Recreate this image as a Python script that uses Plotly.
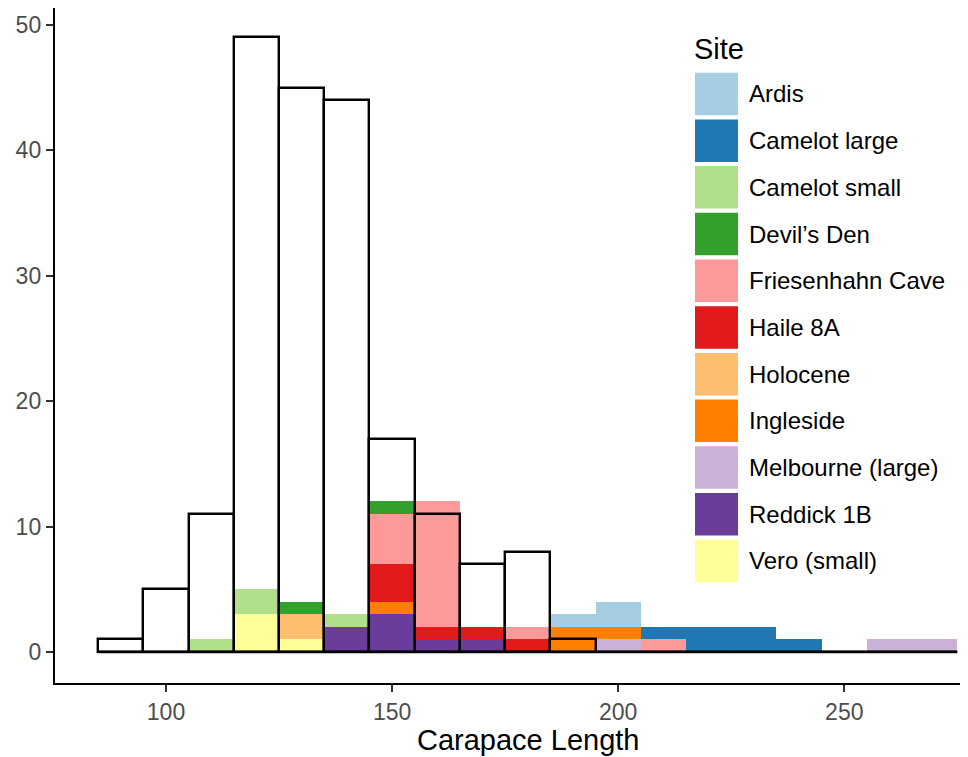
import numpy as np
import plotly.graph_objects as go

# ---------------- data ----------------
bin_width = 10
bin_centers = list(range(90, 271, 10))          # bins 85-95 ... 265-275

modern_counts = [1, 5, 11, 49, 45, 44, 17, 11, 7, 8, 1, 0, 0, 0, 0, 0, 0, 0, 0]

sites = ["Ardis", "Camelot large", "Camelot small", "Devil\u2019s Den",
         "Friesenhahn Cave", "Haile 8A", "Holocene", "Ingleside",
         "Melbourne (large)", "Reddick 1B", "Vero (small)"]
site_colors = ["#A6CEE3", "#1F78B4", "#B2DF8A", "#33A02C", "#FB9A99",
               "#E31A1C", "#FDBF6F", "#FF7F00", "#CAB2D6", "#6A3D9A", "#FFFF99"]

ardis     = [0, 0, 0, 0, 0, 0, 0, 0, 0, 0, 1, 2, 0, 0, 0, 0, 0, 0, 0]
camelot_l = [0, 0, 0, 0, 0, 0, 0, 0, 0, 0, 0, 0, 1, 2, 2, 1, 0, 0, 0]
camelot_s = [0, 0, 1, 2, 0, 1, 0, 0, 0, 0, 0, 0, 0, 0, 0, 0, 0, 0, 0]
devils    = [0, 0, 0, 0, 1, 0, 1, 0, 0, 0, 0, 0, 0, 0, 0, 0, 0, 0, 0]
friesen   = [0, 0, 0, 0, 0, 0, 4, 10, 0, 1, 0, 0, 1, 0, 0, 0, 0, 0, 0]
haile     = [0, 0, 0, 0, 0, 0, 3, 1, 1, 1, 0, 0, 0, 0, 0, 0, 0, 0, 0]
holocene  = [0, 0, 0, 0, 2, 0, 0, 0, 0, 0, 0, 0, 0, 0, 0, 0, 0, 0, 0]
ingleside = [0, 0, 0, 0, 0, 0, 1, 0, 0, 0, 2, 1, 0, 0, 0, 0, 0, 0, 0]
melbourne = [0, 0, 0, 0, 0, 0, 0, 0, 0, 0, 0, 1, 0, 0, 0, 0, 0, 1, 1]
reddick   = [0, 0, 0, 0, 0, 2, 3, 1, 1, 0, 0, 0, 0, 0, 0, 0, 0, 0, 0]
vero      = [0, 0, 0, 3, 1, 0, 0, 0, 0, 0, 0, 0, 0, 0, 0, 0, 0, 0, 0]

site_counts = [ardis, camelot_l, camelot_s, devils, friesen, haile,
               holocene, ingleside, melbourne, reddick, vero]

x_ticks = [100, 150, 200, 250]
y_ticks = [0, 10, 20, 30, 40, 50]

# ---------------- layout constants ----------------
# the page body adds an 8px offset, so the figure is 8px smaller
OFF = 8
W, H = 968 - OFF, 757 - OFF
ML, MR, MT, MB = 55 - OFF, 0, 0, 74
PW, PH = W - ML - MR, H - MT - MB
FONT = "Liberation Sans, Arial, Helvetica, sans-serif"
LW = 2.4


def px2x(p):
    """screen pixel x -> paper x"""
    return (p - OFF - ML) / PW


def px2y(p):
    """screen pixel y -> paper y"""
    return (H - MB - (p - OFF)) / PH


fig = go.Figure()

# stacked coloured bars (last site at the bottom, like ggplot stacking)
base = np.zeros(len(bin_centers))
for name, color, counts in reversed(list(zip(sites, site_colors, site_counts))):
    vals = np.array(counts, dtype=float)
    fig.add_trace(go.Bar(
        x=bin_centers, y=vals, base=base.copy(), width=bin_width,
        marker=dict(color=color, line=dict(width=0)),
        name=name, showlegend=False))
    base = base + vals

# outline histogram on top
fig.add_trace(go.Bar(
    x=bin_centers, y=modern_counts, width=bin_width,
    marker=dict(color="rgba(0,0,0,0)", line=dict(color="black", width=LW)),
    showlegend=False, name="modern"))

# baseline of zero-count bins
edges = [bin_centers[0] - bin_width / 2, bin_centers[-1] + bin_width / 2]
fig.add_trace(go.Scatter(x=edges, y=[0, 0], mode="lines",
                         line=dict(color="black", width=LW),
                         showlegend=False, hoverinfo="skip"))

# ---------------- manual legend ----------------
shapes = []
annotations = []
key_x0, key_x1 = 695, 738
key_top0, key_pitch, key_h = 72.7, 46.7, 42.5
for i, (name, color) in enumerate(zip(sites, site_colors)):
    top = key_top0 + i * key_pitch
    shapes.append(dict(type="rect", xref="paper", yref="paper",
                       x0=px2x(key_x0), x1=px2x(key_x1),
                       y0=px2y(top + key_h), y1=px2y(top),
                       fillcolor=color, line=dict(width=0), layer="above"))
    annotations.append(dict(text=name, xref="paper", yref="paper",
                            x=px2x(747), y=px2y(top + key_h / 2),
                            xanchor="left", yanchor="middle", showarrow=False,
                            font=dict(family=FONT, size=24, color="black")))
annotations.append(dict(text="Site", xref="paper", yref="paper",
                        x=px2x(692), y=px2y(49.5), xanchor="left", yanchor="middle",
                        showarrow=False,
                        font=dict(family=FONT, size=29, color="black")))
annotations.append(dict(text="Carapace Length", xref="paper", yref="paper",
                        x=px2x(528), y=px2y(740), xanchor="center", yanchor="middle",
                        showarrow=False,
                        font=dict(family=FONT, size=29, color="black")))

# axis ranges matching the reference panel (0 at y=652, 100 at x=166)
y_px_per_unit = 12.543
x_px_per_unit = 4.522
y_range = [-(683 - 652) / y_px_per_unit, (652 - (MT + OFF)) / y_px_per_unit]
x_range = [100 - (166 - (ML + OFF)) / x_px_per_unit,
           100 + (968 - 166) / x_px_per_unit]

fig.update_layout(
    width=W, height=H,
    margin=dict(l=ML, r=MR, t=MT, b=MB, pad=0),
    paper_bgcolor="white", plot_bgcolor="white",
    barmode="overlay", bargap=0,
    shapes=shapes, annotations=annotations,
    showlegend=False,
    font=dict(family=FONT),
    xaxis=dict(range=x_range, tickvals=x_ticks, showgrid=False,
               zeroline=False, showline=True, linecolor="black", linewidth=LW,
               ticks="outside", ticklen=7, tickwidth=2, tickcolor="#333333",
               tickfont=dict(family=FONT, size=23, color="#4D4D4D")),
    yaxis=dict(range=y_range, tickvals=y_ticks, showgrid=False,
               zeroline=False, showline=True, linecolor="black", linewidth=LW,
               ticks="outside", ticklen=7, tickwidth=2, tickcolor="#333333",
               tickfont=dict(family=FONT, size=23, color="#4D4D4D")),
)

fig.write_html("out.html")
